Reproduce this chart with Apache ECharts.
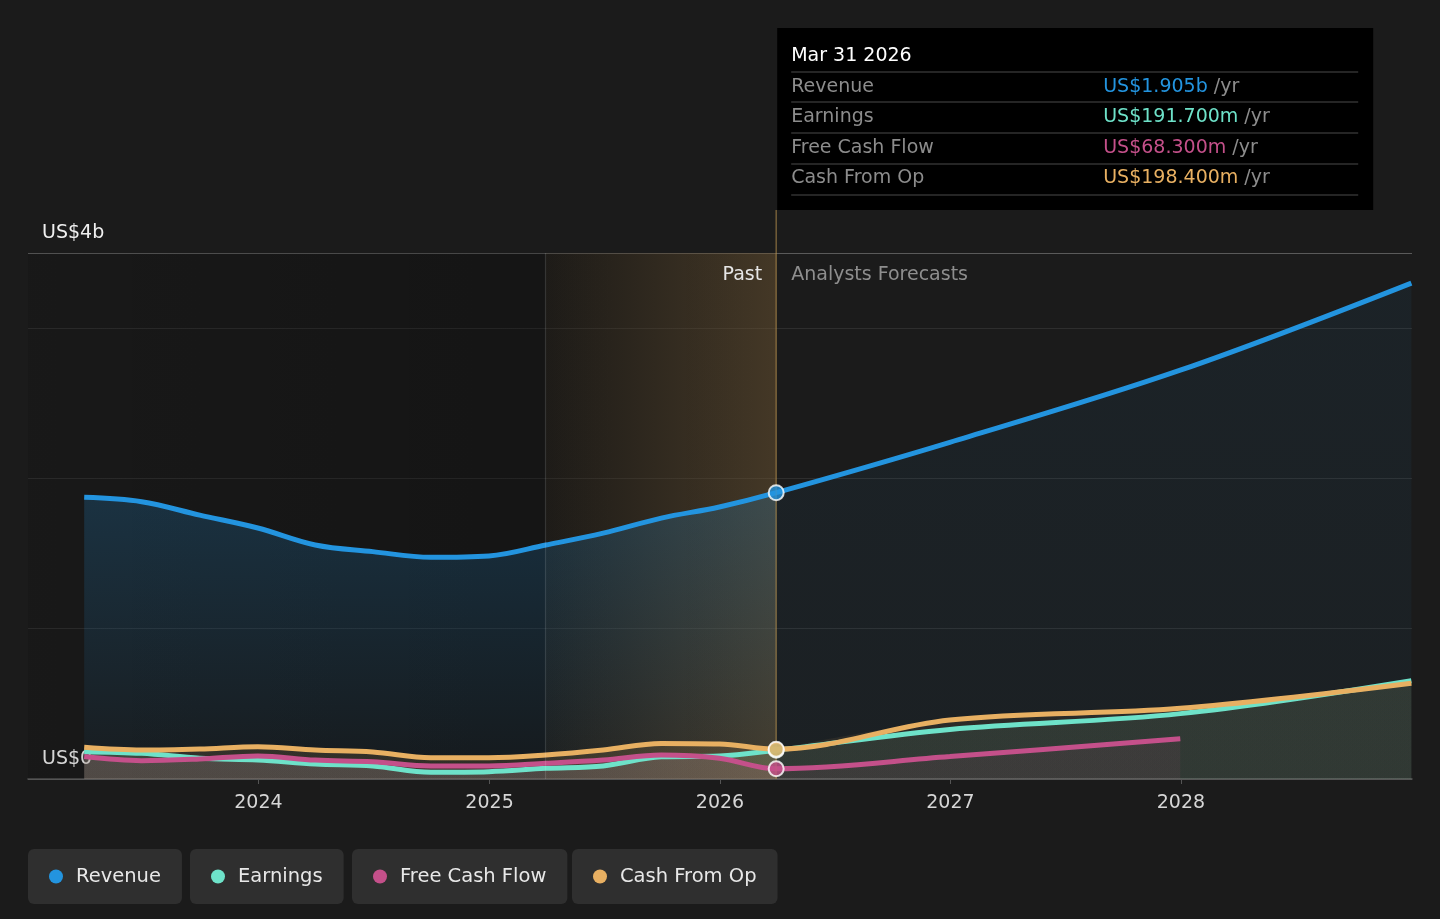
<!DOCTYPE html>
<html>
<head>
<meta charset="utf-8">
<script src="https://cdn.jsdelivr.net/npm/echarts@6/dist/echarts.min.js"></script>
<style>
html,body{margin:0;padding:0;background:#1b1b1b;}
#c{width:1440px;height:919px;}
</style>
</head>
<body>
<div id="c"></div>
<script>
// ---- data (values in US$ billions) ----
var dates = ['2023-03-31','2023-06-30','2023-09-30','2023-12-31','2024-03-31','2024-06-30','2024-09-30','2024-12-31','2025-03-31','2025-06-30','2025-09-30','2025-12-31','2026-03-31','2026-12-31','2027-12-31','2028-12-31'];
var revenue = [1.874,1.845,1.756,1.670,1.557,1.513,1.475,1.484,1.557,1.636,1.736,1.810,1.905,2.240,2.720,3.300];
var earnings = [0.182,0.171,0.138,0.126,0.100,0.087,0.045,0.049,0.071,0.087,0.148,0.153,0.1917,0.330,0.435,0.654];
var freeCashFlow = [0.149,0.122,0.133,0.153,0.126,0.115,0.087,0.087,0.104,0.126,0.160,0.138,0.0683,0.149,0.268,null];
var cashFromOp = [0.211,0.193,0.200,0.215,0.193,0.180,0.142,0.142,0.160,0.193,0.237,0.233,0.1984,0.393,0.470,0.637];
var seriesNames = ['Revenue','Earnings','Free Cash Flow','Cash From Op'];
var yearTicks = ['2024','2025','2026','2027','2028'];
var axisMin = '2023-01-01', axisMax = '2029-01-01';
var nowIndex = 12;            // Mar 31 2026 (selected point)
var pastStartIndex = 8;       // Mar 31 2025 (start of highlighted past year)
var tooltipTitle = 'Mar 31 2026';
var yLabelTop = 'US$4b', yLabelBottom = 'US$0';

var FONT = 'DejaVu Sans';
var colors = ['#2394df','#6ee2c9','#c4508a','#e8b062'];
var allValues = [revenue, earnings, freeCashFlow, cashFromOp];

function ts(d){ return +echarts.time.parse(d); }
function pairs(arr, from, to){
  var out = [];
  for (var i = from; i <= to; i++) { if (arr[i] !== null) out.push([ts(dates[i]), arr[i]]); }
  return out;
}
function rgba(hex,a){
  var n=parseInt(hex.slice(1),16);
  return 'rgba('+((n>>16)&255)+','+((n>>8)&255)+','+(n&255)+','+a+')';
}
function fmt(v){
  if (v >= 1) return 'US$' + v.toFixed(3) + 'b';
  return 'US$' + (v*1000).toFixed(3) + 'm';
}
function grad(hex, a0, a1){
  return {type:'linear',x:0,y:0,x2:0,y2:1,colorStops:[{offset:0,color:rgba(hex,a0)},{offset:1,color:rgba(hex,a1)}]};
}

var chart = echarts.init(document.getElementById('c'), null, {renderer:'canvas'});

var SMOOTH = 0.35;
var areaSeries = [], lineSeries = [];
seriesNames.forEach(function(name,k){
  var common = {name: name, type: 'line', z: 2, smooth: SMOOTH, symbol: 'none',
    itemStyle: {color: colors[k]}, emphasis: {disabled: true}, silent: true};
  areaSeries.push(Object.assign({}, common, {
    data: pairs(allValues[k], 0, nowIndex),
    lineStyle: {width: 0, opacity: 0},
    areaStyle: {color: k === 0 ? grad(colors[k], 0.30, 0.05) : grad(colors[k], 0.19, 0.19)}
  }));
  areaSeries.push(Object.assign({}, common, {
    data: pairs(allValues[k], nowIndex, dates.length - 1),
    lineStyle: {width: 0, opacity: 0},
    areaStyle: {color: k === 0 ? grad(colors[k], 0.09, 0.06) : grad(colors[k], 0.11, 0.11)}
  }));
  lineSeries.push(Object.assign({}, common, {
    data: pairs(allValues[k], 0, dates.length - 1),
    lineStyle: {color: colors[k], width: 5}
  }));
});

var markerData = [1,2,3,0].map(function(k){
  return {
    value: [ts(dates[nowIndex]), allValues[k][nowIndex]],
    itemStyle: {color: colors[k], borderColor:'#ffffff', borderWidth: 2}
  };
});

var yearTickValues = yearTicks.map(function(y){ return ts(y + '-01-01'); });

var legendLefts = [28, 190, 352, 572];
var legends = seriesNames.map(function(name,k){
  return {
    data: [name], left: legendLefts[k], top: 849,
    backgroundColor: '#2f2f2f', borderRadius: 6,
    padding: [16, 21, 16, 21],
    icon: 'circle', itemWidth: 14, itemHeight: 14,
    textStyle: {color:'#e8e8e8', fontSize: 19.5, fontFamily: FONT, lineHeight: 23, padding:[0,0,0,8]}
  };
});

var option = {
  backgroundColor: '#1b1b1b',
  animation: false,
  textStyle: {fontFamily: FONT},
  grid: {left: 28, right: 28, top: 253, bottom: 140},
  legend: legends,
  xAxis: {
    type: 'value', min: ts(axisMin), max: ts(axisMax),
    axisLine: {show: true, onZero: false, lineStyle: {color:'#555555', width: 1.5}},
    axisTick: {show: true, length: 5, lineStyle:{color:'#555555'}, customValues: yearTickValues},
    axisLabel: {
      color: '#d6d6d6', fontSize: 19, fontFamily: FONT, margin: 15,
      customValues: yearTickValues,
      formatter: function(v){ return yearTicks[yearTickValues.indexOf(v)] || ''; }
    },
    splitLine: {show: false}
  },
  yAxis: {
    type: 'value', min: 0, max: 3.5, interval: 1,
    axisLine: {show: false}, axisTick: {show: false},
    axisLabel: {
      inside: true, margin: 14, color: '#f0f0f0', fontSize: 19, fontFamily: FONT,
      verticalAlign: 'bottom', padding: [0,0,10,0],
      formatter: function(v){ return v === 3.5 ? yLabelTop : (v === 0 ? yLabelBottom : ''); }
    },
    splitLine: {show: true, lineStyle: {color: ['#555555','#2e2e2e','#2e2e2e','#2e2e2e','#5a5a5a'], width: 1.2}}
  },
  series: [
    { // darker past background
      type: 'line', z: 1, data: [[ts(dates[0]), null]], symbol:'none', silent: true,
      markArea: {
        silent: true,
        itemStyle: {color: {type:'linear',x:0,y:0,x2:1,y2:0,colorStops:[
          {offset:0,color:'rgba(0,0,0,0.10)'},{offset:1,color:'rgba(0,0,0,0.30)'}]}},
        data: [[{xAxis: ts(axisMin)}, {xAxis: ts(dates[nowIndex])}]]
      }
    }
  ].concat(areaSeries).concat(lineSeries).concat([
    { // highlighted last past year overlay
      type: 'line', z: 3, data: [[ts(dates[0]), null]], symbol:'none', silent: true,
      markArea: {
        silent: true,
        itemStyle: {color: {type:'linear',x:0,y:0,x2:1,y2:0,colorStops:[
          {offset:0,color:'rgba(200,155,90,0.05)'},{offset:1,color:'rgba(200,155,90,0.27)'}]}},
        data: [[{xAxis: ts(dates[pastStartIndex])}, {xAxis: ts(dates[nowIndex])}]]
      },
      markLine: {
        silent: true, symbol: ['none','none'], label: {show:false},
        lineStyle: {color:'rgba(255,255,255,0.13)', type:'solid', width: 1.2},
        data: [{xAxis: ts(dates[pastStartIndex])}]
      }
    },
    {
      type: 'scatter', z: 10, symbol: 'circle', symbolSize: 15,
      data: markerData, silent: true
    }
  ])
};

chart.setOption(option);

// ---- overlay: vertical marker line, labels, tooltip box ----
var px = chart.convertToPixel({xAxisIndex:0}, ts(dates[nowIndex]));
var yTop = chart.convertToPixel({yAxisIndex:0}, 3.5);
var yBot = chart.convertToPixel({yAxisIndex:0}, 0);
var boxTop = 28, boxH = 182, boxW = 596;
var rowYs = [87, 117, 148, 178];
var sepYs = [72, 102, 133, 164, 195];
var F = '19px "DejaVu Sans"';

var g = [];
g.push({type:'line', z: 5, silent:true,
  shape:{x1:px, y1:boxTop+boxH, x2:px, y2:yBot},
  style:{stroke:'rgba(190,150,80,0.55)', lineWidth:1.5}});
g.push({type:'text', z: 6, silent:true, x: px-14, y: yTop+22,
  style:{text:'Past', fill:'#e6e6e6', font:F, align:'right', verticalAlign:'middle'}});
g.push({type:'text', z: 6, silent:true, x: px+15, y: yTop+22,
  style:{text:'Analysts Forecasts', fill:'#8e8e8e', font:F, align:'left', verticalAlign:'middle'}});
g.push({type:'rect', z: 20, silent:true, shape:{x:px+1, y:boxTop, width:boxW, height:boxH}, style:{fill:'#000000'}});
g.push({type:'text', z: 21, silent:true, x: px+15, y: 56,
  style:{text: tooltipTitle, fill:'#ffffff', font:F, verticalAlign:'middle'}});
sepYs.forEach(function(y){
  g.push({type:'line', z: 21, silent:true, shape:{x1:px+15, y1:y, x2:px+582, y2:y},
    style:{stroke:'#4a4a4a', lineWidth:1.2}});
});
seriesNames.forEach(function(name,k){
  g.push({type:'text', z: 21, silent:true, x: px+15, y: rowYs[k],
    style:{text:name, fill:'#8c8c8c', font:F, verticalAlign:'middle'}});
  g.push({type:'text', z: 21, silent:true, x: px+327, y: rowYs[k],
    style:{text:'{v|' + fmt(allValues[k][nowIndex]) + '}{u| /yr}', verticalAlign:'middle',
      font:F,
      rich:{v:{fill: colors[k], font:F}, u:{fill:'#8c8c8c', font:F}}}});
});
chart.setOption({graphic: g});
</script>
</body>
</html>
